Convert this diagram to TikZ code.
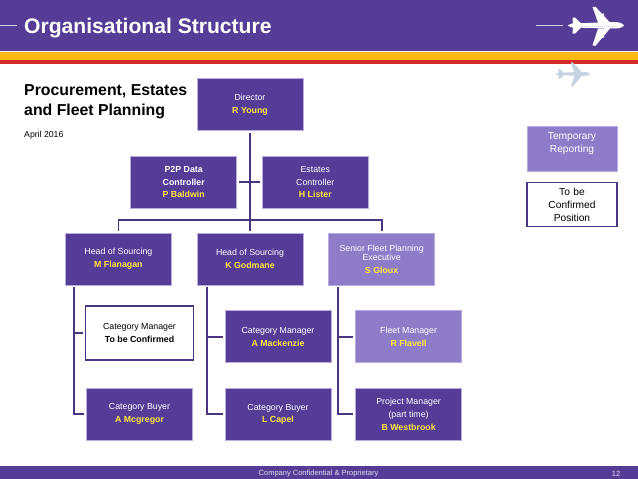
\documentclass[tikz,border=0pt]{standalone}
\usepackage{fontspec}
\setmainfont{Liberation Sans}
\usepackage{tikz}
\usetikzlibrary{positioning,calc}
\definecolor{orgPurple}{HTML}{553C96}
\definecolor{orgLight}{HTML}{8F7CC8}
\definecolor{orgEdge}{HTML}{B9ACE0}
\definecolor{orgLine}{HTML}{4A3680}
\definecolor{orgName}{HTML}{FFEB3B}
\definecolor{stripYellow}{HTML}{FDB913}
\definecolor{stripRed}{HTML}{D62A2A}
\definecolor{planeGrey}{HTML}{C5D3E2}
\newcommand{\who}[1]{\textcolor{orgName}{\textbf{#1}}}
\newcommand{\planeshape}{%
  (1,-2) -- (44,-3.5) .. controls (49,-3.5) and (52,-1.5) .. (53,0)
  .. controls (52,1.5) and (49,3) .. (44,3) -- (1,2) -- (-3,.3) -- (-3,-.3) -- cycle
  (27,-3) -- (21.5,-18.5) -- (24.5,-18.7) -- (39,-3) -- cycle
  (27,3) -- (21.5,20) -- (24.5,20.3) -- (39,3) -- cycle
  (27.5,-12) -- (33,-12) -- (33,-10) -- (30,-9) -- cycle
  (27.5,12) -- (33,12) -- (33,10) -- (30,9) -- cycle
  (2,-2) -- (1.5,-8) -- (4,-8) -- (10,-2) -- cycle
  (2,2) -- (1.5,8) -- (4,8) -- (10,2) -- cycle}

\begin{document}
\begin{tikzpicture}[
  x=1pt, y=-1pt,
  box/.style={rectangle, draw=orgEdge, line width=.6pt, fill=#1, text=white,
              minimum width=106pt, minimum height=52pt, align=center,
              inner sep=1pt, font=\fontsize{8.8}{12.8}\selectfont},
  openbox/.style={rectangle, draw=orgLine, line width=1.8pt, fill=white,
              align=center, inner sep=1pt},
  conn/.style={draw=orgLine, line width=1.8pt},
  band/.style={rectangle, fill=#1, draw=none, inner sep=0pt, minimum width=638pt, anchor=north west}
]
\useasboundingbox (0,0) rectangle (638,479);

% ---- header and footer ----
\node[band=orgPurple, minimum height=51pt] (hdr) at (0,0) {};
\node[band=stripYellow, minimum height=8pt, below=0pt of hdr.south west, anchor=north west] (stripa) {};
\node[band=stripRed, minimum height=3.5pt, below=0pt of stripa.south west, anchor=north west] (stripb) {};
\node[band=orgPurple, minimum height=12.5pt] (ftr) at (0,466) {};
\node[text=white, font=\fontsize{21.1}{24}\selectfont\bfseries, anchor=west, inner sep=0pt] (title) at (24,28) {Organisational Structure};
\node[text=white!85!orgPurple, font=\fontsize{7.5}{9}\selectfont, inner sep=0pt] (conf) at (318.5,473.5) {Company Confidential \& Proprietary};
\node[text=white!85!orgPurple, font=\fontsize{7.5}{9}\selectfont, inner sep=0pt] (pageno) at (616,473.5) {12};
\node[font=\fontsize{15.85}{19.5}\selectfont\bfseries, align=left, anchor=north west, inner sep=0pt] (sub) at (24,84.5) {Procurement, Estates\\and Fleet Planning};
\node[font=\fontsize{8.7}{10}\selectfont, anchor=west, inner sep=0pt] (date) at (24,135.5) {April 2016};

% ---- planes ----
\draw[orgEdge!60!white, line width=.8pt] (0,25.5) -- (17,25.5);
\draw[orgEdge!60!white, line width=.8pt] (536,25.5) -- (563,25.5);
\fill[white, shift={(571,25.5)}] \planeshape;
\draw[planeGrey, line width=1pt, dash pattern=on 1pt off 1pt] (582,26.5) -- (616,26.5);
\fill[planeGrey, shift={(557.5,74)}, scale=.62] \planeshape;

% ---- top of the tree ----
\node[box=orgPurple] (dir) at (250,104.5) {Director\\\who{R Young}};
\node[box=orgPurple, below left=25pt and 13pt of dir.south] (p2p)
  {\textbf{P2P Data}\\\textbf{Controller}\\\who{P Baldwin}};
\node[box=orgPurple, below right=25pt and 12pt of dir.south] (est)
  {Estates\\Controller\\\who{H Lister}};

% ---- heads ----
\node[box=orgPurple, below=102pt of dir] (head2) {Head of Sourcing\\\who{K Godmane}};
\node[box=orgPurple, left=25pt of head2] (head1) {Head of Sourcing\\\who{M Flanagan}};
\node[box=orgLight, right=25pt of head2] (head3)
  {Senior Fleet Planning\\[-3.8pt]Executive\\\who{S Gloux}};

% ---- first column ----
\node[openbox, minimum width=108pt, minimum height=54pt, below right=19.5pt and 19.5pt of head1.south west,
      font=\fontsize{8.8}{12.8}\selectfont] (mgr1)
  {Category Manager\\\textbf{To be Confirmed}};
\node[box=orgPurple, below=27pt of mgr1] (buy1) {Category Buyer\\\who{A Mcgregor}};

% ---- second column ----
\node[box=orgPurple, below right=25pt and 28pt of head2.south west] (mgr2)
  {Category Manager\\\who{A Mackenzie}};
\node[box=orgPurple, below=25pt of mgr2] (buy2) {Category Buyer\\\who{L Capel}};

% ---- third column ----
\node[box=orgLight, below right=25pt and 27pt of head3.south west] (mgr3)
  {Fleet Manager\\\who{R Flavell}};
\node[box=orgPurple, below=25pt of mgr3] (buy3)
  {Project Manager\\(part time)\\\who{B Westbrook}};

% ---- key ----
\node[rectangle, draw=orgEdge, line width=.4pt, fill=orgLight, text=white, text width=88pt, minimum height=45pt,
      align=center, anchor=north, inner sep=1pt, font=\fontsize{10.2}{13}\selectfont] (keya) at (572,126)
  {Temporary\\Reporting\\\mbox{}};
\node[openbox, text width=88pt, minimum height=44pt, anchor=north, font=\fontsize{10.2}{13}\selectfont] (keyb) at (572,181.5)
  {To be\\Confirmed\\Position};

% connectors
\coordinate (bus) at ($(head2.north)+(0,-13)$);
\draw[conn, shorten <=2pt, shorten >=2pt] (dir.south) -- (head2.north);
\draw[conn] (p2p.east) ++(2,0) -- ($(est.west)+(-2,0)$);
\draw[conn, shorten >=2pt] (bus) -| (head1.north);
\draw[conn, shorten >=2pt] (bus) -| (head3.north);
\foreach \hd/\mg/\by/\ox in {head1/mgr1/buy1/9, head2/mgr2/buy2/10, head3/mgr3/buy3/10} {
  \coordinate (\hd rail) at ($(\hd.south west)+(\ox,2)$);
  \draw[conn] (\hd rail) |- ($(\by.west)+(-2,0)$);
  \draw[conn] (\hd rail |- \mg.west) -- ($(\mg.west)+(-2,0)$);
}
\end{tikzpicture}
\end{document}
